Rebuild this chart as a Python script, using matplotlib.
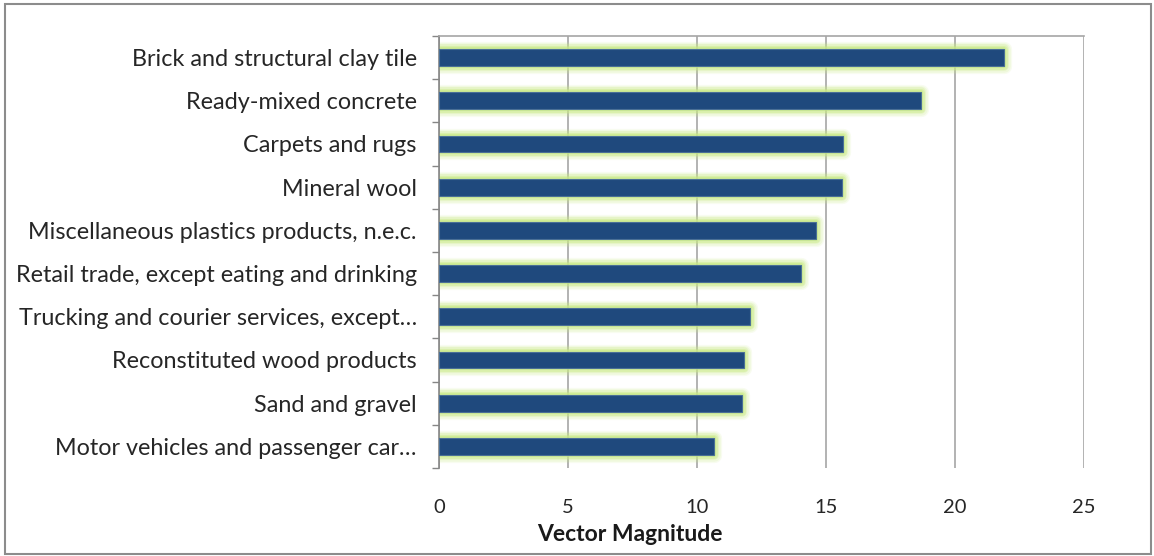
import matplotlib.pyplot as plt
import numpy as np
from matplotlib.patches import Rectangle

categories = [
    "Brick and structural clay tile",
    "Ready-mixed concrete",
    "Carpets and rugs",
    "Mineral wool",
    "Miscellaneous plastics products, n.e.c.",
    "Retail trade, except eating and drinking",
    "Trucking and courier services, except…",
    "Reconstituted wood products",
    "Sand and gravel",
    "Motor vehicles and passenger car…",
]
values = [21.9, 18.7, 15.67, 15.63, 14.6, 14.03, 12.07, 11.82, 11.73, 10.65]
xticks = [0, 5, 10, 15, 20, 25]

plt.rcParams["font.family"] = ["Lato", "DejaVu Sans"]

fig = plt.figure(figsize=(11.54, 5.56), dpi=100)
ax = fig.add_axes([0.3804, 0.1583, 0.9393 - 0.3804, 0.9353 - 0.1583])

y = np.arange(len(categories))
bar_h = 0.39
glow = "#c9ea86"
# soft green glow around each bar
for lw, a in [(11, 0.12), (9, 0.18), (7, 0.26), (5, 0.38), (3, 0.6)]:
    ax.barh(y, values, height=bar_h, color="none", edgecolor=glow,
            linewidth=lw, alpha=a, joinstyle="round", zorder=2)
ax.barh(y, values, height=bar_h, color="#1f497d", edgecolor="#4a6f96",
        linewidth=0.8, zorder=3)

ax.set_xlim(0, 25)
ax.set_ylim(len(categories) - 0.5, -0.5)
ax.set_xticks(xticks)
ax.set_xticklabels([str(t) for t in xticks], fontsize=14.5, color="#262626")
ax.tick_params(axis="x", length=0, pad=22)
ax.grid(axis="x", color="#a6a6a6", linewidth=1.2, zorder=0)
ax.set_axisbelow(True)

ax.set_yticks(y)
ax.set_yticklabels(categories, fontsize=16.8, color="#262626")
ax.tick_params(axis="y", which="major", length=0, pad=16)
ax.set_yticks(np.arange(len(categories) + 1) - 0.5, minor=True)
ax.tick_params(axis="y", which="minor", length=5, color="#868686", width=1)

for s in ["right", "bottom"]:
    ax.spines[s].set_visible(False)
ax.spines["top"].set_color("#a6a6a6")
ax.spines["top"].set_linewidth(1.2)
ax.spines["left"].set_color("#868686")
ax.spines["left"].set_linewidth(1.2)

ax.set_xlabel("Vector Magnitude", fontsize=16.5, fontweight="bold",
              color="#1a1a1a")
ax.xaxis.label.set_va("center")
ax.xaxis.set_label_coords(0.296, -0.155)

fig.patches.append(Rectangle((0.004, 0.004), 0.993, 0.989, transform=fig.transFigure,
                             fill=False, edgecolor="#8c8c8c", linewidth=1.5))

fig.savefig("out.png", dpi=100)
